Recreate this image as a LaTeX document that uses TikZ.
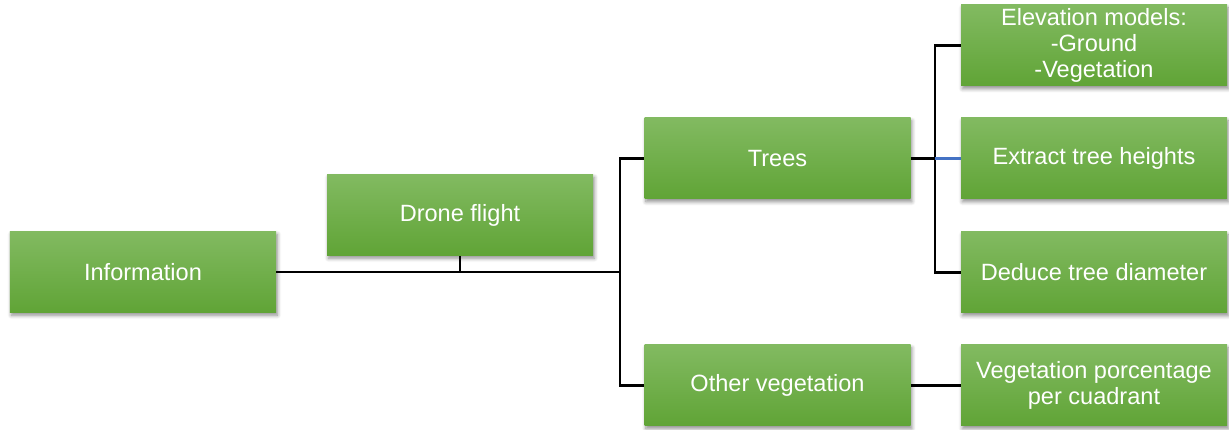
\documentclass[tikz,border=0pt]{standalone}
\usepackage{fontspec}
\setmainfont{Liberation Sans}
\usepackage{tikz}
\usetikzlibrary{positioning, shadows.blur}
\definecolor{LeafTop}{RGB}{130,186,97}
\definecolor{LeafBot}{RGB}{96,164,54}
\definecolor{LinkBlue}{RGB}{68,114,196}

\begin{document}
\begin{tikzpicture}[
          gbx/.style={rectangle, minimum width=5.32cm, minimum height=1.62cm,
                      align=center, text=white, top color=LeafTop,
                      bottom color=LeafBot, inner sep=2pt,
                      font=\fontsize{13.4}{14.6}\selectfont,
                      blur shadow={shadow xshift=0.8pt, shadow yshift=-1.6pt,
                                   shadow blur steps=6, shadow opacity=45}},
          lnk/.style={draw=black, line width=1.4pt}
        ]
        \useasboundingbox (0,0) rectangle (24.58,8.6);

        % first level
        \node[gbx] (info)  at (2.86, 3.16) {Information};
        \node[gbx] (drone) at (9.20, 4.30) {Drone flight};

        % second level
        \node[gbx] (trees) at (15.55, 5.43) {Trees};
        \node[gbx] (other) at (15.55, 0.89) {Other vegetation};

        % third level
        \node[gbx] (elev)    at (21.88, 7.69) {Elevation models:\\-Ground\\-Vegetation};
        \node[gbx] (extract) at (21.88, 5.43) {Extract tree heights};
        \node[gbx] (deduce)  at (21.88, 3.15) {Deduce tree diameter};
        \node[gbx] (vegpct)  at (21.88, 0.89) {Vegetation porcentage\\per cuadrant};

        % bus lines
        \coordinate (busA) at (12.40, 0);
        \coordinate (busB) at (18.70, 0);

        % Information -> branches
        \draw[lnk] (info.east) -- (info.east -| busA);
        \draw[lnk] (drone.south) -- (drone.south |- info.east);
        \draw[lnk] (trees.west) -- (trees.west -| busA)
                   -- (other.west -| busA) -- (other.west);

        % Trees -> tasks
        \draw[lnk] (trees.east) -- (trees.east -| busB);
        \draw[lnk] (elev.west) -- (elev.west -| busB)
                   -- (deduce.west -| busB) -- (deduce.west);
        \draw[lnk, draw=LinkBlue] (trees.east -| busB) -- (extract.west);

        % Other vegetation -> percentage
        \draw[lnk] (other.east) -- (vegpct.west);
      \end{tikzpicture}
\end{document}
